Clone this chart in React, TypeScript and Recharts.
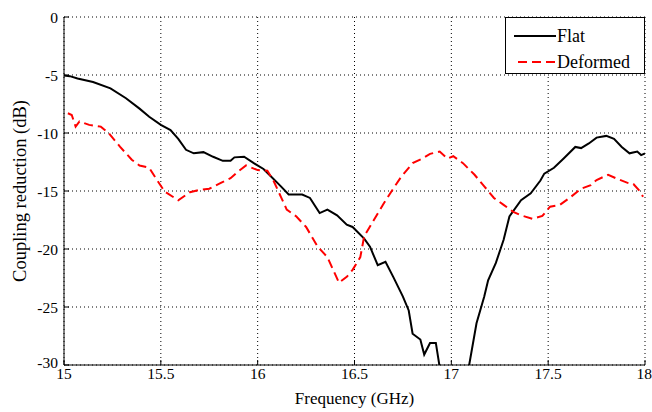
import React from "react";
import { LineChart, Line, XAxis, YAxis, CartesianGrid, Legend } from "recharts";

const FONT = "'Liberation Serif', 'Times New Roman', serif";

const X_TICKS = [15, 15.5, 16, 16.5, 17, 17.5, 18];
const Y_TICKS = [-30, -25, -20, -15, -10, -5, 0];

const flatFreq = [
  15.0, 15.03, 15.07, 15.15, 15.24, 15.32, 15.39, 15.44, 15.5, 15.55, 15.59, 15.63, 15.67, 15.72, 15.77,
  15.82, 15.86, 15.88, 15.93, 15.98, 16.03, 16.06, 16.12, 16.16, 16.23, 16.27, 16.32, 16.36, 16.41, 16.46,
  16.49, 16.55, 16.58, 16.62, 16.66, 16.7, 16.75, 16.78, 16.8, 16.84, 16.86, 16.89, 16.92, 16.94, 16.96,
  17.07, 17.09, 17.13, 17.17, 17.19, 17.23, 17.27, 17.3, 17.36, 17.41, 17.46, 17.48, 17.53, 17.58, 17.64,
  17.67, 17.71, 17.75, 17.8, 17.84, 17.88, 17.92, 17.96, 17.98, 18.0,
];
const flatDb = [
  -5.05, -5.1, -5.3, -5.6, -6.15, -7.0, -7.9, -8.6, -9.3, -9.75, -10.5, -11.45, -11.75, -11.65, -12.05,
  -12.4, -12.4, -12.1, -12.05, -12.6, -13.1, -13.6, -14.6, -15.3, -15.3, -15.6, -16.9, -16.6, -17.1, -17.9,
  -18.1, -19.1, -19.8, -21.4, -21.1, -22.4, -24.1, -25.3, -27.3, -27.8, -29.1, -28.1, -28.1, -30.2, -33,
  -33, -30.2, -26.4, -24.1, -22.7, -21.2, -19.2, -17.2, -15.8, -15.2, -14.1, -13.5, -13.0, -12.2, -11.2,
  -11.3, -10.9, -10.4, -10.25, -10.5, -11.2, -11.75, -11.6, -11.9, -11.75,
];

const defFreq = [
  15.02, 15.04, 15.06, 15.08, 15.13, 15.19, 15.23, 15.29, 15.35, 15.39, 15.44, 15.48, 15.52, 15.59, 15.65,
  15.7, 15.75, 15.81, 15.86, 15.9, 15.94, 16.0, 16.05, 16.08, 16.12, 16.15, 16.2, 16.25, 16.31, 16.36,
  16.42, 16.46, 16.49, 16.53, 16.55, 16.6, 16.65, 16.7, 16.74, 16.8, 16.85, 16.89, 16.94, 16.98, 17.01,
  17.06, 17.12, 17.17, 17.22, 17.27, 17.32, 17.36, 17.42, 17.47, 17.51, 17.56, 17.61, 17.67, 17.72, 17.75,
  17.81, 17.85, 17.91, 17.94, 17.975, 17.99,
];
const defDb = [
  -8.3, -8.45, -9.45, -9.0, -9.3, -9.45, -10.0, -11.2, -12.3, -12.8, -13.0, -14.05, -15.05, -15.8, -15.1,
  -14.9, -14.8, -14.3, -13.9, -13.3, -12.8, -13.2, -13.25, -14.05, -15.5, -16.6, -17.2, -18.1, -19.8, -20.7,
  -22.9, -22.4, -21.8, -20.7, -18.9, -17.5, -16.1, -14.8, -13.8, -12.6, -12.2, -11.8, -11.6, -12.2, -12.0,
  -12.6, -13.6, -14.6, -15.6, -16.2, -16.8, -17.1, -17.4, -17.15, -16.35, -16.2, -15.6, -14.8, -14.5, -14.05,
  -13.6, -13.9, -14.3, -14.4, -15.05, -15.5,
];

const flatData = flatFreq.map((f, i) => ({ f, v: flatDb[i] }));
const defData = defFreq.map((f, i) => ({ f, v: defDb[i] }));

const tickStyle = { fontSize: 15.5, fill: "#000", fontFamily: FONT };
const tickLineStyle = { stroke: "#000", strokeWidth: 1 };

// y tick: lift the bottom label a little so it clears the x labels, like the original
const YTick = ({ x, y, payload }: any) => (
  <text
    x={x}
    y={payload.value === -30 ? y - 3 : y}
    textAnchor="end"
    dominantBaseline="central"
    style={tickStyle}
  >
    {payload.value}
  </text>
);

const LegendBox = () => (
  <div
    style={{
      width: 140,
      height: 57,
      border: "1px solid #000",
      background: "#fff",
      fontFamily: FONT,
      fontSize: 18,
      color: "#000",
      boxSizing: "border-box",
      paddingTop: 5,
    }}
  >
    <div style={{ display: "flex", alignItems: "center", height: 26 }}>
      <svg width={52} height={10} style={{ marginLeft: 6 }}>
        <line x1={2} y1={5} x2={44} y2={5} stroke="#000" strokeWidth={2} />
      </svg>
      <span style={{ marginLeft: -7 }}>Flat</span>
    </div>
    <div style={{ display: "flex", alignItems: "center", height: 26 }}>
      <svg width={52} height={10} style={{ marginLeft: 6 }}>
        <line x1={6} y1={5} x2={44} y2={5} stroke="#ff0000" strokeWidth={2} strokeDasharray="9 5" />
      </svg>
      <span style={{ marginLeft: -7 }}>Deformed</span>
    </div>
  </div>
);

const YLabel = () => (
  <text
    x={22}
    y={191}
    transform="rotate(-90 22 191)"
    textAnchor="middle"
    dominantBaseline="middle"
    style={{ fontSize: 18.5, fontFamily: FONT, fill: "#000" }}
  >
    Coupling reduction (dB)
  </text>
);

export default function App() {
  return (
    <div style={{ position: "absolute", left: 0, top: 0, background: "#fff" }}>
      <LineChart width={652} height={412} margin={{ top: 17, right: 7, bottom: 17, left: 0 }}>
        <CartesianGrid stroke="#000" strokeDasharray="1 3" horizontalValues={Y_TICKS} verticalValues={X_TICKS} />
        <XAxis
          type="number"
          dataKey="f"
          domain={[15, 18]}
          ticks={X_TICKS}
          allowDataOverflow
          tick={tickStyle}
          tickLine={tickLineStyle}
          tickSize={-5}
          axisLine={{ stroke: "#000" }}
          height={30}
          tickMargin={8}
          label={{ value: "Frequency (GHz)", position: "insideBottom", offset: -9, style: { fontSize: 17, fontFamily: FONT, fill: "#000" } }}
        />
        <XAxis
          xAxisId="top"
          orientation="top"
          type="number"
          domain={[15, 18]}
          ticks={X_TICKS}
          tick={false}
          tickLine={tickLineStyle}
          tickSize={-5}
          height={0}
          axisLine={{ stroke: "#000" }}
        />
        <YAxis
          type="number"
          domain={[-30, 0]}
          ticks={Y_TICKS}
          allowDataOverflow
          tick={<YTick />}
          tickLine={tickLineStyle}
          tickSize={-5}
          axisLine={{ stroke: "#000" }}
          width={64}
          tickMargin={11}
          label={<YLabel />}
        />
        <YAxis
          yAxisId="right"
          orientation="right"
          type="number"
          domain={[-30, 0]}
          ticks={Y_TICKS}
          tick={false}
          tickLine={tickLineStyle}
          tickSize={-5}
          width={0}
          axisLine={{ stroke: "#000" }}
        />
        <Legend
          verticalAlign="middle"
          align="center"
          layout="vertical"
          content={<LegendBox />}
          wrapperStyle={{ position: "absolute", top: 17, left: 505, width: 140 }}
        />
        <Line
          data={flatData}
          dataKey="v"
          type="linear"
          stroke="#000"
          strokeWidth={2}
          dot={false}
          isAnimationActive={false}
        />
        <Line
          data={defData}
          dataKey="v"
          type="linear"
          stroke="#ff0000"
          strokeWidth={2}
          strokeDasharray="9 5"
          dot={false}
          isAnimationActive={false}
        />
      </LineChart>
    </div>
  );
}
